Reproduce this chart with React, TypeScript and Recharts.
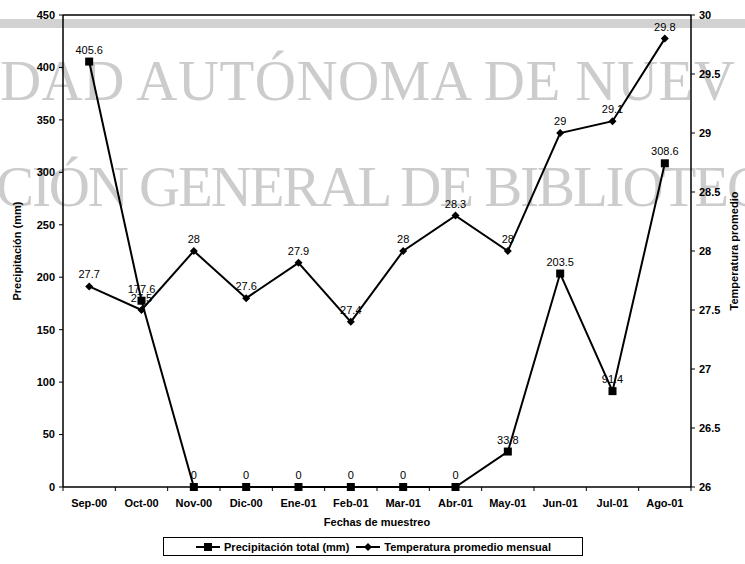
import React from 'react';
import { LineChart, Line, XAxis, YAxis, LabelList, ReferenceLine, Label } from 'recharts';

const months = ['Sep-00', 'Oct-00', 'Nov-00', 'Dic-00', 'Ene-01', 'Feb-01', 'Mar-01', 'Abr-01', 'May-01', 'Jun-01', 'Jul-01', 'Ago-01'];
const precipitation = [405.6, 177.6, 0, 0, 0, 0, 0, 0, 33.8, 203.5, 91.4, 308.6];
const temperature = [27.7, 27.5, 28, 27.6, 27.9, 27.4, 28, 28.3, 28, 29, 29.1, 29.8];
const precipTicks = [0, 50, 100, 150, 200, 250, 300, 350, 400, 450];
const tempTicks = [26, 26.5, 27, 27.5, 28, 28.5, 29, 29.5, 30];

const data = months.map((m, i) => ({ i, month: m, precip: precipitation[i], temp: temperature[i] }));
const monthTicks = months.map((_, i) => i);
const boundaryTicks = months.map((_, i) => i - 0.5).concat(months.length - 0.5);

const FONT = '"Liberation Sans", Arial, sans-serif';
const tickStyle = { fontFamily: FONT, fontSize: 11, fontWeight: 700, fill: '#000' };
const valueStyle = { fontFamily: FONT, fontSize: 11 };

const SquareDot = (props: any) => {
  const { cx, cy, index } = props;
  return <rect key={`sq-${index}`} x={cx - 4} y={cy - 4} width={8} height={8} fill="#000" />;
};

const DiamondDot = (props: any) => {
  const { cx, cy, index } = props;
  return <polygon key={`dm-${index}`} points={`${cx},${cy - 4} ${cx + 4},${cy} ${cx},${cy + 4} ${cx - 4},${cy}`} fill="#000" />;
};

// scanned page watermark behind the chart
const Watermark = () => (
  <svg width={745} height={564} style={{ position: 'absolute', left: 0, top: 0 }}>
    <rect x={0} y={19} width={745} height={9} fill="#d2d2d2" />
    <text x={0} y={100} fontFamily='"Liberation Serif", serif' fontSize={57} fill="#cccccc" textLength={735} lengthAdjust="spacing">
      DAD AUTÓNOMA DE NUEV
    </text>
    <text x={-4} y={206} fontFamily='"Liberation Serif", serif' fontSize={57} fill="#cccccc" textLength={769} lengthAdjust="spacing">
      CIÓN GENERAL DE BIBLIOTEC
    </text>
  </svg>
);

const LegendMarker: React.FC<{ kind: 'square' | 'diamond' }> = ({ kind }) => (
  <svg width={26} height={10} style={{ marginRight: 3 }}>
    <line x1={1} y1={5} x2={25} y2={5} stroke="#000" strokeWidth={2} />
    {kind === 'square'
      ? <rect x={9} y={1} width={8} height={8} fill="#000" />
      : <polygon points="13,1 17,5 13,9 9,5" fill="#000" />}
  </svg>
);

export default function App() {
  return (
    <div style={{ position: 'absolute', left: 0, top: 0, width: 745, height: 564, background: '#fff', overflow: 'hidden' }}>
      <Watermark />
      <div style={{ position: 'absolute', left: 0, top: 0 }}>
        <LineChart width={745} height={564} data={data} margin={{ top: 15, right: 0, left: 0, bottom: 34 }}>
          <XAxis
            xAxisId="a0"
            type="number"
            dataKey="i"
            domain={[-0.5, months.length - 0.5]}
            ticks={boundaryTicks}
            tickFormatter={() => ''}
            height={6}
            tickSize={4}
            axisLine={{ stroke: '#000', strokeWidth: 1.5 }}
            tickLine={{ stroke: '#000' }}
          />
          <XAxis
            xAxisId="a1"
            type="number"
            dataKey="i"
            domain={[-0.5, months.length - 0.5]}
            ticks={monthTicks}
            tickFormatter={(v: number) => months[v]}
            interval={0}
            height={37}
            tickSize={0}
            tickMargin={6}
            axisLine={false}
            tickLine={false}
            tick={tickStyle}
          >
            <Label
              content={({ viewBox }: any) => (
                <text x={viewBox.x + viewBox.width / 2} y={viewBox.y + 33} textAnchor="middle" style={tickStyle}>
                  Fechas de muestreo
                </text>
              )}
            />
          </XAxis>
          <YAxis
            yAxisId="left"
            domain={[0, 450]}
            ticks={precipTicks}
            width={63}
            tickSize={4}
            tickMargin={4}
            axisLine={{ stroke: '#000', strokeWidth: 1.5 }}
            tickLine={{ stroke: '#000' }}
            tick={tickStyle}
          >
            <Label
              content={({ viewBox }: any) => {
                const x = viewBox.x + 21;
                const y = viewBox.y + viewBox.height / 2;
                return (
                  <text x={x} y={y} transform={`rotate(-90 ${x} ${y})`} textAnchor="middle" style={tickStyle}>
                    Precipitación (mm)
                  </text>
                );
              }}
            />
          </YAxis>
          <YAxis
            yAxisId="right"
            orientation="right"
            domain={[26, 30]}
            ticks={tempTicks}
            width={54}
            tickSize={4}
            tickMargin={4}
            axisLine={{ stroke: '#000', strokeWidth: 1.5 }}
            tickLine={{ stroke: '#000' }}
            tick={tickStyle}
          >
            <Label
              content={({ viewBox }: any) => {
                const x = viewBox.x + 47;
                const y = viewBox.y + viewBox.height / 2;
                return (
                  <text x={x} y={y} transform={`rotate(-90 ${x} ${y})`} textAnchor="middle" style={tickStyle}>
                    Temperatura promedio
                  </text>
                );
              }}
            />
          </YAxis>
          <ReferenceLine y={450} yAxisId="left" xAxisId="a1" stroke="#000" strokeWidth={1.5} />
          <Line
            xAxisId="a1"
            yAxisId="left"
            dataKey="precip"
            stroke="#000"
            strokeWidth={2}
            dot={SquareDot}
            isAnimationActive={false}
          >
            <LabelList dataKey="precip" position="top" offset={8} fill="#000" stroke="none" style={valueStyle} />
          </Line>
          <Line
            xAxisId="a1"
            yAxisId="right"
            dataKey="temp"
            stroke="#000"
            strokeWidth={2}
            dot={DiamondDot}
            isAnimationActive={false}
          >
            <LabelList dataKey="temp" position="top" offset={8} fill="#000" stroke="none" style={valueStyle} />
          </Line>
        </LineChart>
      </div>
      <div
        style={{
          position: 'absolute', left: 163, top: 537, width: 420, height: 19, boxSizing: 'border-box',
          border: '1px solid #000', display: 'flex', alignItems: 'center', justifyContent: 'center',
          fontFamily: FONT, fontSize: 11, fontWeight: 700, color: '#000', whiteSpace: 'nowrap',
        }}
      >
        <LegendMarker kind="square" />
        <span style={{ marginRight: 6 }}>Precipitación total (mm)</span>
        <LegendMarker kind="diamond" />
        <span>Temperatura promedio mensual</span>
      </div>
    </div>
  );
}
